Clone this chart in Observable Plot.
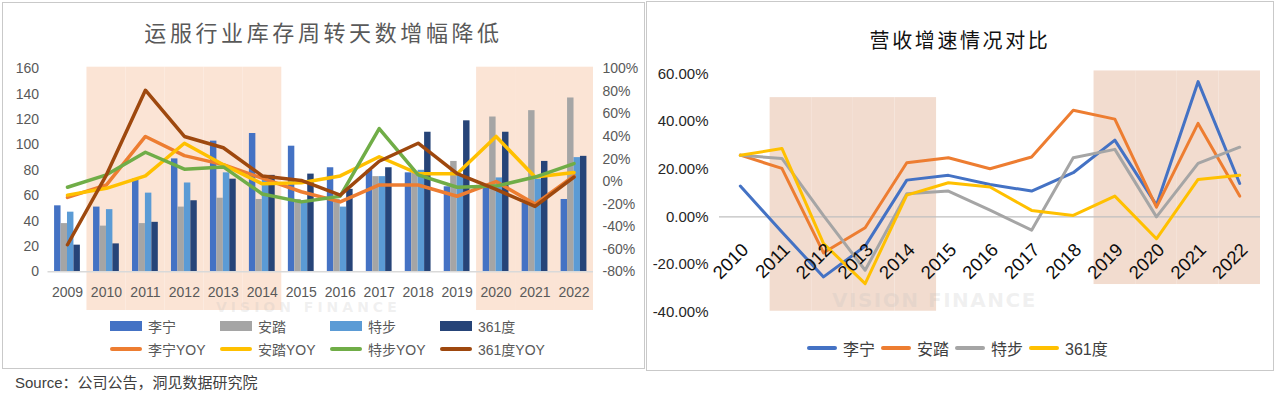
<!DOCTYPE html>
<html>
<head>
<meta charset="utf-8">
<script src="https://cdn.jsdelivr.net/npm/d3@7"></script>
<script src="https://cdn.jsdelivr.net/npm/@observablehq/plot@0.6"></script>
<style>
  html,body{margin:0;padding:0;background:#fff;}
  body{width:1280px;height:397px;position:relative;overflow:hidden;font-family:"Liberation Sans","Noto Sans CJK SC",sans-serif;}
  .panel{position:absolute;box-sizing:border-box;border:1px solid #c9c9c9;background:#fff;}
  .layer{position:absolute;top:0;}
  .title{position:absolute;text-align:center;font-family:"Noto Sans CJK SC",sans-serif;line-height:1;white-space:nowrap;}
  .legend{position:absolute;display:flex;align-items:center;font-family:"Liberation Sans","Noto Sans CJK SC",sans-serif;white-space:nowrap;}
  .legend .item{display:flex;align-items:center;}
  .source{position:absolute;left:15px;top:375px;font-size:15px;color:#404040;font-family:"Liberation Sans","Noto Sans CJK SC",sans-serif;line-height:1;}
  .wm{position:absolute;font-family:"DejaVu Sans",sans-serif;font-weight:bold;line-height:1;white-space:nowrap;pointer-events:none;color:rgba(190,190,190,0.22);}
</style>
</head>
<body>
<div class="panel" style="left:2px;top:2px;width:643px;height:367px;"></div>
<div class="panel" style="left:646px;top:1px;width:628px;height:370px;"></div>
<div id="left"></div>
<div id="right"></div>
<div class="wm" style="left:216px;top:300px;font-size:14px;letter-spacing:4px;">VISION FINANCE</div>
<div class="wm" style="left:832px;top:290px;font-size:20px;letter-spacing:1.5px;">VISION FINANCE</div>
<div class="title" style="left:2px;width:643px;top:20px;font-size:22px;letter-spacing:3.6px;color:#595959;">运服行业库存周转天数增幅降低</div>
<div class="title" style="left:646px;width:628px;top:30px;font-size:20px;letter-spacing:2.6px;color:#111;">营收增速情况对比</div>
<div class="legend" id="legL1" style="left:110px;top:316px;font-size:14px;color:#595959;"></div>
<div class="legend" id="legL2" style="left:110px;top:339px;font-size:14px;color:#595959;"></div>
<div class="legend" id="legR" style="left:807px;top:336px;font-size:16px;color:#404040;gap:6px;"></div>
<div class="source">Source：公司公告，洞见数据研究院</div>
<script>
// ---------------- Data: left chart (inventory turnover days & YoY) ----------------
const years = [2009, 2010, 2011, 2012, 2013, 2014, 2015, 2016, 2017, 2018, 2019, 2020, 2021, 2022];
const dayNames = ["李宁", "安踏", "特步", "361度"];
const liningDays = [52, 51, 73, 89, 103, 109, 99, 82, 80, 78, 67, 68, 54, 57];
const antaDays   = [38, 36, 38, 51, 58, 57, 57, 57, 75, 78, 87, 122, 127, 137];
const xtepDays   = [47, 49, 62, 70, 78, 73, 56, 51, 75, 80, 76, 74, 73, 90];
const s361Days   = [21, 22, 39, 56, 73, 76, 77, 65, 82, 110, 119, 110, 87, 91];

const yoyNames = ["李宁YOY", "安踏YOY", "特步YOY", "361度YOY"];
const liningYoY = [-14, -3, 40, 23, 15, 3, -9, -18, -3, -3, -13, 0, -20, 5];
const antaYoY   = [-12, -6, 5, 34, 15, -2, -1, 5, 22, 7, 7, 40, 4, 8];
const xtepYoY   = [-5, 6, 26, 11, 13, -11, -18, -13, 47, 6, -5, -4, 4, 16];
const s361YoY   = [-56, 6, 81, 40, 30, 5, 1, -12, 18, 34, 7, -7, -22, 4];

const dayTicks = [0, 20, 40, 60, 80, 100, 120, 140, 160];
const yoyTicks = [-80, -60, -40, -20, 0, 20, 40, 60, 80, 100];
const leftShadeYears = [2010, 2011, 2012, 2013, 2014, 2020, 2021, 2022];

// ---------------- Data: right chart (revenue growth) ----------------
const revYears = [2010, 2011, 2012, 2013, 2014, 2015, 2016, 2017, 2018, 2019, 2020, 2021, 2022];
const revNames = ["李宁", "安踏", "特步", "361度"];
const liningRev = [12.9, -6.4, -25.2, -12.3, 15.4, 17.4, 13.6, 10.8, 18.5, 32.2, 4.9, 56.7, 14.0];
const antaRev   = [25.9, 20.3, -15.1, -4.6, 22.7, 24.8, 20.2, 25.1, 44.7, 41.0, 4.1, 39.2, 8.7];
const xtepRev   = [25.8, 24.5, 0.5, -22.4, 9.7, 10.8, 2.8, -5.6, 24.8, 28.3, 0.0, 22.4, 29.2];
const s361Rev   = [25.8, 28.7, -11.2, -28.0, 9.1, 14.3, 12.5, 2.7, 0.6, 8.7, -9.2, 15.7, 17.4];
const revTicks = [-40, -20, 0, 20, 40, 60];
const revShadeAYears = [2011, 2012, 2013, 2014];
const revShadeARange = [-39.6, 50];
const revShadeBYears = [2019, 2020, 2021, 2022];
const revShadeBRange = [-28.4, 61.2];

// ---------------- Styles ----------------
const font = '"Liberation Sans","Noto Sans CJK SC",sans-serif';
const dayColors = ["#4472C4", "#A5A5A5", "#5B9BD5", "#264478"];
const yoyColors = ["#ED7D31", "#FFC000", "#70AD47", "#9E480E"];
const revColors = ["#4472C4", "#ED7D31", "#A5A5A5", "#FFC000"];

function place(el, parent, left) {
  el.classList.add("layer");
  el.style.left = left + "px";
  document.getElementById(parent).appendChild(el);
}

// ---------------- Left chart ----------------
const LW = 644, mL = 47.5, mR = 51;
const step = (LW - mL - mR) / years.length;
const group = 25.8, sub = group / 4, edge = (step - group) / 2;
const xBand = {type: "band", domain: years, padding: 0, round: false};

const shadeLayer = Plot.plot({
  width: LW, height: 310, marginTop: 66.7, marginBottom: 0, marginLeft: mL, marginRight: mR,
  style: {background: "transparent"},
  x: {...xBand, axis: null},
  marks: [Plot.cell(leftShadeYears, {x: d => d, fill: "#fbe4d5", inset: 0})]
});
place(shadeLayer, "left", 0);

const daySeries = [liningDays, antaDays, xtepDays, s361Days];
const barsLayer = Plot.plot({
  width: LW, height: 312, marginTop: 68.3, marginBottom: 40.7, marginLeft: mL, marginRight: mR,
  style: {fontSize: "14px", fontFamily: font, color: "#595959", background: "transparent"},
  x: {...xBand, tickSize: 0, tickPadding: 15, label: null, tickFormat: d => String(d)},
  y: {domain: [0, 160], ticks: dayTicks, tickSize: 0, tickPadding: 9, label: null},
  marks: [
    ...daySeries.map((vals, k) => Plot.barY(years.map((yr, i) => ({year: yr, v: vals[i]})), {
      x: "year", y: "v", fill: dayColors[k],
      insetLeft: edge + k * sub, insetRight: edge + (3 - k) * sub
    })),
    Plot.ruleY([0], {stroke: "#d9d9d9", strokeWidth: 1.5})
  ]
});
place(barsLayer, "left", 0);

const yoySeries = [liningYoY, antaYoY, xtepYoY, s361YoY];
const linesLayer = Plot.plot({
  width: LW, height: 312, marginTop: 68.3, marginBottom: 40.7, marginLeft: mL, marginRight: mR,
  style: {fontSize: "14px", fontFamily: font, color: "#595959", background: "transparent"},
  x: {...xBand, axis: null},
  y: {domain: [-80, 100], axis: "right", ticks: yoyTicks, tickFormat: d => d + "%", tickSize: 0, tickPadding: 9, label: null},
  marks: yoySeries.map((vals, k) => Plot.line(years.map((yr, i) => ({year: yr, v: vals[i]})), {
    x: "year", y: "v", stroke: yoyColors[k], strokeWidth: 3.5, strokeLinejoin: "round"
  }))
});
place(linesLayer, "left", 0);

// Left legends
const legL1 = document.getElementById("legL1");
dayNames.forEach((n, k) => {
  const it = document.createElement("div");
  it.className = "item"; it.style.width = "110px";
  it.innerHTML = `<span style="display:inline-block;width:32px;height:10px;background:${dayColors[k]};margin-right:6px"></span><span>${n}</span>`;
  legL1.appendChild(it);
});
const legL2 = document.getElementById("legL2");
yoyNames.forEach((n, k) => {
  const it = document.createElement("div");
  it.className = "item"; it.style.width = "110px";
  it.innerHTML = `<span style="display:inline-block;width:32px;height:3.5px;border-radius:2px;background:${yoyColors[k]};margin-right:6px"></span><span>${n}</span>`;
  legL2.appendChild(it);
});

// ---------------- Right chart ----------------
const RW = 628;
const revSeries = [liningRev, antaRev, xtepRev, s361Rev];
const revPlot = Plot.plot({
  width: RW, height: 330, marginTop: 73.3, marginBottom: 18.3, marginLeft: 73, marginRight: 14,
  style: {fontSize: "15px", fontFamily: font, color: "#262626", background: "transparent"},
  x: {type: "band", domain: revYears, padding: 0, round: false, axis: null},
  y: {domain: [-40, 60], ticks: revTicks, tickFormat: d => d.toFixed(2) + "%", tickSize: 0, tickPadding: 11, label: null},
  marks: [
    Plot.barY(revShadeAYears, {x: d => d, y1: () => revShadeARange[0], y2: () => revShadeARange[1], fill: "#f2dccf", inset: 0, dx: 9}),
    Plot.barY(revShadeBYears, {x: d => d, y1: () => revShadeBRange[0], y2: () => revShadeBRange[1], fill: "#f2dccf", inset: 0}),
    Plot.ruleY([0], {stroke: "#bfbfbf", strokeWidth: 1.2}),
    ...revSeries.map((vals, k) => Plot.line(revYears.map((yr, i) => ({year: yr, v: vals[i]})), {
      x: "year", y: "v", stroke: revColors[k], strokeWidth: 3, strokeLinejoin: "round"
    })),
    Plot.text(revYears, {x: d => d, y: () => 0, text: d => String(d), rotate: -45, textAnchor: "end",
      dx: 5, dy: 30, fontSize: 18.5, fill: "#0d0d0d"})
  ]
});
place(revPlot, "right", 646);

const legR = document.getElementById("legR");
revNames.forEach((n, k) => {
  const it = document.createElement("div");
  it.className = "item";
  it.innerHTML = `<span style="display:inline-block;width:30px;height:3.5px;border-radius:2px;background:${revColors[k]};margin-right:6px"></span><span>${n}</span>`;
  legR.appendChild(it);
});
</script>
</body>
</html>
